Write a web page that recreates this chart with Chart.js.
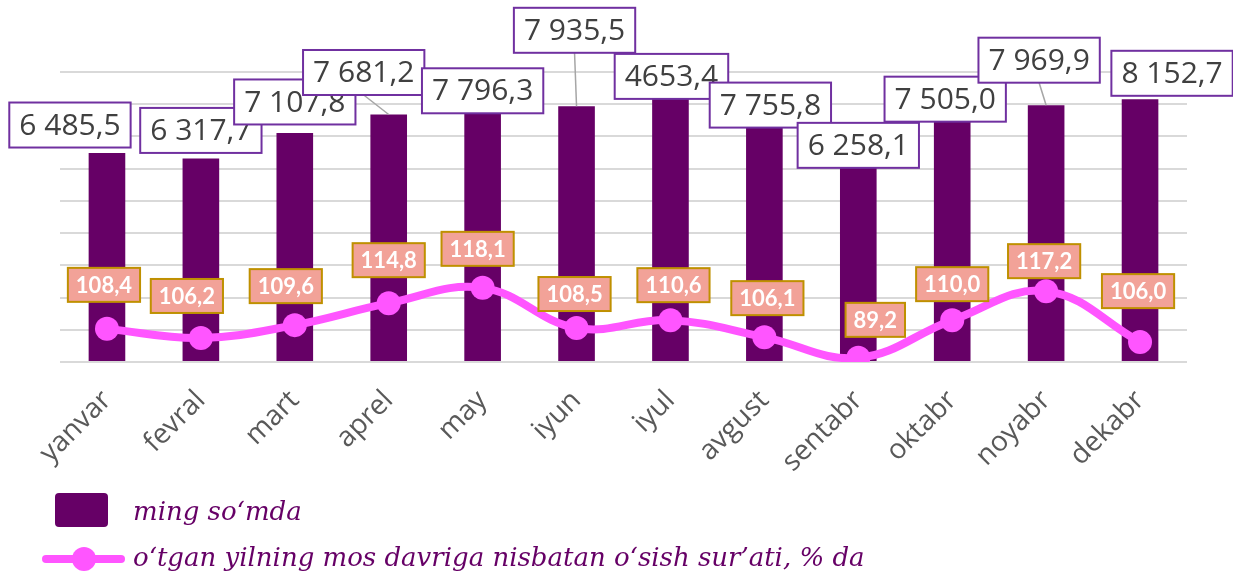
<!DOCTYPE html>
<html>
<head>
<meta charset="utf-8">
<script src="https://cdn.jsdelivr.net/npm/chart.js@4.4.1/dist/chart.umd.min.js"></script>
<style>
  html, body { margin: 0; padding: 0; background: #fff; overflow: hidden; }
  #wrap { width: 1233px; height: 573px; }
</style>
</head>
<body>
<div id="wrap"><canvas id="grafik" width="1233" height="573"></canvas></div>
<script>
const oylar = ['yanvar', 'fevral', 'mart', 'aprel', 'may', 'iyun', 'iyul', 'avgust', 'sentabr', 'oktabr', 'noyabr', 'dekabr'];
// ming so'mda (ustunlar)
const summa = [6485.5, 6317.7, 7107.8, 7681.2, 7796.3, 7935.5, 8460, 7755.8, 6258.1, 7505.0, 7969.9, 8152.7];
const summaYorliq = ['6 485,5', '6 317,7', '7 107,8', '7 681,2', '7 796,3', '7 935,5', '4653,4', '7 755,8', '6 258,1', '7 505,0', '7 969,9', '8 152,7'];
// o'sish sur'ati, % (chiziq, rasmdan o'qilgan holati)
const osish = [108.0, 105.8, 108.9, 114.2, 117.9, 108.2, 110.1, 106.0, 101.0, 110.1, 117.1, 104.8];
const osishYorliq = ['108,4', '106,2', '109,6', '114,8', '118,1', '108,5', '110,6', '106,1', '89,2', '110,0', '117,2', '106,0'];

// yorliqlar siljishi (px)
const summaSilj = [[-37, -28], [0, -28], [0, -31], [-25, -42], [0, -20], [-2, -76], [1, -13], [6, -7], [0, -15], [-7, -21], [-7, -45], [32, -26]];
const osishSilj = [[-3, -44], [-14, -42], [-9, -39], [0, -43], [-5, -39], [-2, -34], [3, -35], [3, -39], [17, -38], [0, -36], [-2, -30], [-2, -51]];

const binafsha = '#660066';
const pushti = '#ff55ff';

function quti(ctx, cx, cy, matn, o) {
    ctx.font = o.font;
    const w = ctx.measureText(matn).width + o.pad * 2;
    const x = cx - w / 2, y = cy - o.h / 2;
    ctx.fillStyle = o.fill;
    ctx.fillRect(x, y, w, o.h);
    ctx.lineWidth = 2;
    ctx.strokeStyle = o.stroke;
    ctx.strokeRect(x, y, w, o.h);
    ctx.fillStyle = o.color;
    ctx.textAlign = 'center';
    ctx.textBaseline = 'middle';
    ctx.fillText(matn, cx, cy + 1);
}

const yorliqlar = {
    id: 'yorliqlar',
    afterDatasetsDraw(chart) {
        const ctx = chart.ctx;
        const ustun = chart.getDatasetMeta(0).data;
        const nuqta = chart.getDatasetMeta(1).data;
        ctx.save();
        ustun.forEach((b, i) => {
            const cx = b.x + summaSilj[i][0], cy = b.y + summaSilj[i][1];
            const past = cy + 22.5;
            if (b.y - past > 15) {
                ctx.strokeStyle = '#a6a6a6';
                ctx.lineWidth = 1.5;
                ctx.beginPath();
                ctx.moveTo(cx, past);
                ctx.lineTo(b.x, b.y);
                ctx.stroke();
            }
            quti(ctx, cx, cy, summaYorliq[i], {
                font: '30px "Open Sans"', pad: 10, h: 45,
                fill: '#ffffff', stroke: '#7030a0', color: '#404040'
            });
        });
        nuqta.forEach((p, i) => {
            quti(ctx, p.x + osishSilj[i][0], p.y + osishSilj[i][1], osishYorliq[i], {
                font: 'bold 22px Lato', pad: 8, h: 34,
                fill: '#f2a298', stroke: '#bf9000', color: '#ffffff'
            });
        });
        ctx.restore();
    },
    afterDraw(chart) {
        const ctx = chart.ctx;
        ctx.save();
        // legend
        ctx.fillStyle = binafsha;
        ctx.beginPath();
        ctx.roundRect(55, 493, 53, 34, 4);
        ctx.fill();
        ctx.strokeStyle = pushti;
        ctx.lineWidth = 8;
        ctx.lineCap = 'round';
        ctx.beginPath();
        ctx.moveTo(46, 559);
        ctx.lineTo(121, 559);
        ctx.stroke();
        ctx.fillStyle = pushti;
        ctx.beginPath();
        ctx.arc(84, 559, 12, 0, Math.PI * 2);
        ctx.fill();
        ctx.fillStyle = binafsha;
        ctx.font = 'italic 26px "DejaVu Serif"';
        ctx.textAlign = 'left';
        ctx.textBaseline = 'alphabetic';
        ctx.fillText('ming so\u2018mda', 133, 520);
        ctx.fillText('o\u2018tgan yilning mos davriga nisbatan o\u2018sish sur\u2019ati, % da', 133, 566);
        ctx.restore();
    }
};

new Chart(document.getElementById('grafik'), {
    type: 'bar',
    data: {
        labels: oylar,
        datasets: [{
            label: 'ming so\u2018mda',
            data: summa,
            backgroundColor: binafsha,
            barPercentage: 0.39,
            categoryPercentage: 1,
            yAxisID: 'y',
            order: 2
        }, {
            type: 'line',
            label: 'o\u2018tgan yilning mos davriga nisbatan o\u2018sish sur\u2019ati, % da',
            data: osish,
            borderColor: pushti,
            backgroundColor: pushti,
            borderWidth: 8,
            pointRadius: 12,
            pointBorderWidth: 0,
            pointBackgroundColor: pushti,
            tension: 0.4,
            yAxisID: 'y1',
            order: 1
        }]
    },
    options: {
        responsive: false,
        maintainAspectRatio: false,
        animation: false,
        layout: { padding: { left: 60, right: 46, top: 72, bottom: 81 } },
        plugins: {
            legend: { display: false },
            tooltip: { enabled: false }
        },
        scales: {
            x: {
                grid: { display: false },
                border: { display: false },
                ticks: {
                    color: '#595959',
                    font: { family: '"Open Sans"', size: 28 },
                    minRotation: 45,
                    maxRotation: 45,
                    padding: 14
                },
                afterFit(s) { s.height = 130; }
            },
            y: {
                min: 0,
                max: 9000,
                ticks: { display: false, stepSize: 1000 },
                grid: { color: '#d9d9d9', lineWidth: 2, drawTicks: false },
                border: { display: false },
                afterFit(s) { s.width = 0; }
            },
            y1: {
                position: 'right',
                min: 100,
                max: 170,
                ticks: { display: false },
                grid: { display: false },
                border: { display: false },
                afterFit(s) { s.width = 0; }
            }
        }
    },
    plugins: [yorliqlar]
});
</script>
</body>
</html>
